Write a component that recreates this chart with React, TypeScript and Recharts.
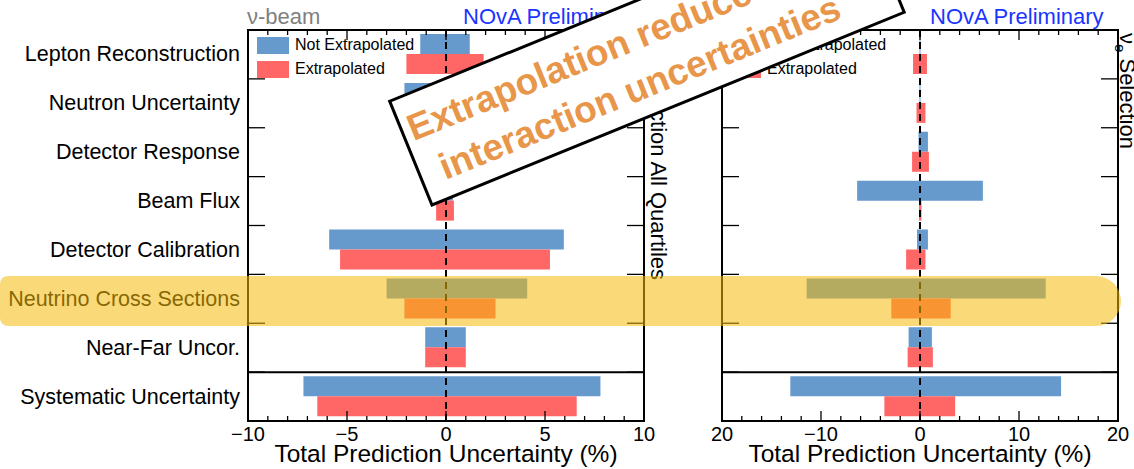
import React from 'react';
import {
  BarChart,
  Bar,
  XAxis,
  YAxis,
  ReferenceLine,
  ReferenceArea,
  Legend,
} from 'recharts';

const categories = [
  'Lepton Reconstruction',
  'Neutron Uncertainty',
  'Detector Response',
  'Beam Flux',
  'Detector Calibration',
  'Neutrino Cross Sections',
  'Near-Far Uncor.',
  'Systematic Uncertainty',
];

const seriesNames = ['Not Extrapolated', 'Extrapolated'];

// [low, high] prediction uncertainty in %
const numuNotExtrapolated: [number, number][] = [
  [-1.3, 1.2], [-2.1, 2.3], [-0.6, 0.8], [-0.3, 0.35],
  [-5.9, 5.95], [-3.0, 4.1], [-1.05, 1.0], [-7.2, 7.8],
];
const numuExtrapolated: [number, number][] = [
  [-2.0, 1.9], [-1.4, 1.6], [-0.5, 0.6], [-0.5, 0.4],
  [-5.35, 5.25], [-2.1, 2.5], [-1.05, 1.0], [-6.5, 6.6],
];
const nueNotExtrapolated: [number, number][] = [
  [-0.05, 0.05], [-0.05, 0.05], [-0.15, 0.8], [-6.35, 6.35],
  [-0.3, 0.8], [-11.45, 12.7], [-1.15, 1.2], [-13.1, 14.25],
];
const nueExtrapolated: [number, number][] = [
  [-0.7, 0.7], [-0.35, 0.55], [-0.8, 0.9], [-0.1, 0.15],
  [-1.4, 0.55], [-2.9, 3.1], [-1.25, 1.3], [-3.6, 3.55],
];

const numuTicks = [-10, -9, -8, -7, -6, -5, -4, -3, -2, -1, 0, 1, 2, 3, 4, 5, 6, 7, 8, 9, 10];
const numuMajor = [-10, -5, 0, 5, 10];
const numuLabels = ['−10', '−5', '0', '5', '10'];

const nueTicks = [-20, -18, -16, -14, -12, -10, -8, -6, -4, -2, 0, 2, 4, 6, 8, 10, 12, 14, 16, 18, 20];
const nueMajor = [-20, -10, 0, 10, 20];
const nueLabels = ['20', '−10', '0', '10', '20'];

const BLUE = '#6699cc';
const RED = '#ff6666';
const FONT = '"Liberation Sans", Arial, Helvetica, sans-serif';

const PLOT_W = 396;
const PLOT_H = 391;
const BAND = PLOT_H / categories.length;

const makeRows = (blue: [number, number][], red: [number, number][]) =>
  categories.map((name, i) => ({ name, notExtrap: blue[i], extrap: red[i] }));

const numuRows = makeRows(numuNotExtrapolated, numuExtrapolated);
const nueRows = makeRows(nueNotExtrapolated, nueExtrapolated);

const XTick = (props: any) => {
  const { x, y, payload, major, labels } = props;
  const v = payload.value;
  const idx = major.indexOf(v);
  const len = idx >= 0 ? 10 : 5;
  return (
    <g>
      <line x1={x} x2={x} y1={y} y2={y - len} stroke="#000" strokeWidth={1.3} />
      <line x1={x} x2={x} y1={y - PLOT_H} y2={y - PLOT_H + len} stroke="#000" strokeWidth={1.3} />
      {idx >= 0 && (
        <text x={x} y={y + 20} textAnchor="middle" fontSize={20} fill="#000" fontFamily={FONT}>
          {labels[idx]}
        </text>
      )}
    </g>
  );
};

const YTick = (props: any) => {
  const { x, y, payload, showLabel } = props;
  const left = x + 8;
  const yb = y - BAND / 2;
  return (
    <g>
      <line x1={left} x2={left + 17} y1={yb} y2={yb} stroke="#000" strokeWidth={1.3} />
      <line x1={left + PLOT_W - 17} x2={left + PLOT_W} y1={yb} y2={yb} stroke="#000" strokeWidth={1.3} />
      {showLabel && (
        <text x={x} y={y + 7} textAnchor="end" fontSize={21.5} fill="#000" fontFamily={FONT}>
          {payload.value}
        </text>
      )}
    </g>
  );
};

const LegendBox = (props: any) => {
  const items = [...(props.payload || [])].sort(
    (a: any, b: any) => seriesNames.indexOf(a.value) - seriesNames.indexOf(b.value)
  );
  return (
    <div style={{ fontFamily: FONT, fontSize: 16, color: '#000' }}>
      {items.map((it: any) => (
        <div key={it.value} style={{ display: 'flex', alignItems: 'center', height: 24 }}>
          <span style={{ display: 'inline-block', width: 32, height: 17, background: it.color }} />
          <span style={{ marginLeft: 6, whiteSpace: 'nowrap' }}>{it.value}</span>
        </div>
      ))}
    </div>
  );
};

type PanelProps = {
  left: number;
  yAxisWidth: number;
  rows: any[];
  domain: [number, number];
  ticks: number[];
  major: number[];
  labels: string[];
  showNames: boolean;
  legendLeft: number;
};

const Panel = ({ left, yAxisWidth, rows, domain, ticks, major, labels, showNames, legendLeft }: PanelProps) => (
  <div style={{ position: 'absolute', left, top: 0 }}>
    <BarChart
      width={yAxisWidth + PLOT_W + 16}
      height={469}
      data={rows}
      layout="vertical"
      margin={{ top: 30, right: 16, bottom: 0, left: 0 }}
      barSize={20}
      barGap={0}
    >
      <XAxis
        type="number"
        domain={domain}
        ticks={ticks}
        interval={0}
        allowDataOverflow
        axisLine={false}
        tickLine={false}
        tickSize={0}
        tickMargin={0}
        height={48}
        tick={(p: any) => <XTick {...p} major={major} labels={labels} />}
        label={{
          value: 'Total Prediction Uncertainty (%)',
          position: 'insideBottom',
          offset: 7,
          fontSize: 24.5,
          fill: '#000',
          fontFamily: FONT,
        }}
      />
      <YAxis
        type="category"
        dataKey="name"
        width={yAxisWidth}
        interval={0}
        axisLine={false}
        tickLine={false}
        tickSize={0}
        tickMargin={8}
        tick={(p: any) => <YTick {...p} showLabel={showNames} />}
      />
      <Legend
        layout="vertical"
        align="center"
        verticalAlign="middle"
        wrapperStyle={{ left: legendLeft, top: 33, width: 'auto' }}
        content={<LegendBox />}
      />
      <Bar dataKey="notExtrap" name={seriesNames[0]} fill={BLUE} isAnimationActive={false} />
      <Bar dataKey="extrap" name={seriesNames[1]} fill={RED} isAnimationActive={false} />
      <ReferenceLine x={0} stroke="#000" strokeWidth={2} strokeDasharray="7 5" />
      <ReferenceArea x1={domain[0]} x2={domain[1]} fill="none" stroke="#000" strokeWidth={2} />
      <ReferenceArea
        x1={domain[0]}
        x2={domain[1]}
        y1="Systematic Uncertainty"
        y2="Systematic Uncertainty"
        fill="none"
        stroke="#000"
        strokeWidth={2}
      />
    </BarChart>
  </div>
);

export default function App() {
  return (
    <div
      style={{
        position: 'absolute',
        left: 0,
        top: 0,
        width: 1134,
        height: 469,
        background: '#fff',
        overflow: 'hidden',
        fontFamily: FONT,
      }}
    >
      <Panel
        left={0}
        yAxisWidth={248}
        rows={numuRows}
        domain={[-10, 10]}
        ticks={numuTicks}
        major={numuMajor}
        labels={numuLabels}
        showNames
        legendLeft={257}
      />
      <Panel
        left={700}
        yAxisWidth={22}
        rows={nueRows}
        domain={[-20, 20]}
        ticks={nueTicks}
        major={nueMajor}
        labels={nueLabels}
        showNames={false}
        legendLeft={29}
      />
      <svg
        width={1134}
        height={469}
        style={{ position: 'absolute', left: 0, top: 0, pointerEvents: 'none' }}
        fontFamily={FONT}
      >
        <text x={247} y={24} fontSize={22} fill="#7f7f7f">ν-beam</text>
        <text x={463} y={24} fontSize={22} fill="#1a35ff">NOvA Preliminary</text>
        <text x={930} y={24} fontSize={22} fill="#1a35ff">NOvA Preliminary</text>
        <text transform="translate(651,280) rotate(90)" textAnchor="end" fontSize={22} fill="#000">
          ν<tspan dy={5} fontSize={15}>μ</tspan>
          <tspan dy={-5}> Selection All Quartiles</tspan>
        </text>
        <text transform="translate(1120,33) rotate(90)" fontSize={22} fill="#000">
          ν<tspan dy={5} fontSize={15}>e</tspan>
          <tspan dy={-5}> Selection</tspan>
        </text>
        <path
          d="M 8 276 H 1096 A 25 25 0 0 1 1121 301 A 25 25 0 0 1 1096 326 H 8 A 8 8 0 0 1 0 318 V 284 A 8 8 0 0 1 8 276 Z"
          fill="#f4ba0a"
          fillOpacity={0.55}
        />
        <g transform="translate(432,205) rotate(-22.2)">
          <rect x={0} y={-112} width={510} height={112} fill="#fff" stroke="#000" strokeWidth={3} />
          <text x={7} y={-66} fontSize={37} fontWeight="bold" fill="#e8964a">
            Extrapolation reduces
          </text>
          <text x={22} y={-18} fontSize={37} fontWeight="bold" fill="#e8964a">
            interaction uncertainties
          </text>
        </g>
      </svg>
    </div>
  );
}
